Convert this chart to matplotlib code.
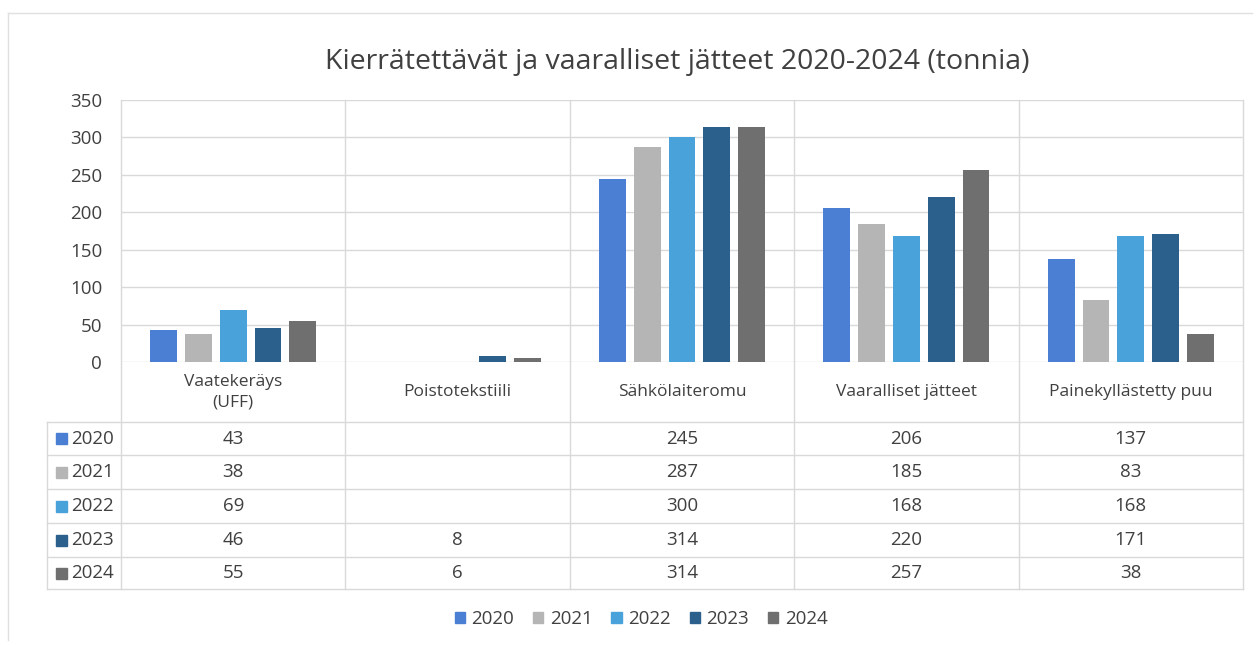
import numpy as np
import matplotlib as mpl
mpl.use("Agg")
import matplotlib.pyplot as plt
from matplotlib.patches import Patch
from matplotlib.lines import Line2D

# Datos del gráfico
categorias = ["Vaatekeräys\n(UFF)", "Poistotekstiili", "Sähkölaiteromu",
              "Vaaralliset jätteet", "Painekyllästetty puu"]
anios = ["2020", "2021", "2022", "2023", "2024"]
v2020 = [43, np.nan, 245, 206, 137]
v2021 = [38, np.nan, 287, 185, 83]
v2022 = [69, np.nan, 300, 168, 168]
v2023 = [46, 8, 314, 220, 171]
v2024 = [55, 6, 314, 257, 38]
series = [v2020, v2021, v2022, v2023, v2024]
colores = ["#4a7fd4", "#b5b5b5", "#4aa2da", "#2b5f8c", "#6f6f6f"]
yticks = [0, 50, 100, 150, 200, 250, 300, 350]

W, H = 1257, 645
plt.rcParams['font.family'] = ['Open Sans', 'DejaVu Sans']
fig = plt.figure(figsize=(W / 100, H / 100), dpi=100)
fig.patch.set_facecolor("white")

def fx(x):
    return x / W

def fy(y):
    return 1 - y / H

# Límites del área de trazado (píxeles)
izq, der, arriba, cero = 121, 1243, 100, 362
tabla_izq = 47
filas = [422, 455, 489, 523, 557, 589]
gris = "#d9d9d9"
texto = "#404040"

ax = fig.add_axes([fx(izq), fy(cero), fx(der - izq), (cero - arriba) / H])
ax.set_xlim(0, len(categorias))
ax.set_ylim(0, 350)
ax.set_yticks(yticks)
ax.tick_params(axis="y", length=0, labelsize=13.5, labelcolor=texto, pad=13.5)
ax.set_xticks([])
for s in ax.spines.values():
    s.set_visible(False)
ax.yaxis.grid(True, color=gris, linewidth=1)
ax.set_axisbelow(True)

# Barras
ancho, paso = 0.12, 0.155
centros = np.arange(len(categorias)) + 0.5
for i, (vals, col) in enumerate(zip(series, colores)):
    ax.bar(centros + (i - 2) * paso, vals, width=ancho, color=col, zorder=2)

# Título
fig.text(fx(677), fy(62), "Kierrätettävät ja vaaralliset jätteet 2020-2024 (tonnia)",
         ha="center", va="center", fontsize=20.5, color=texto)

# Líneas de la tabla de datos
col_w = (der - izq) / len(categorias)
lineas = []
for k in range(len(categorias) + 1):
    x = izq + k * col_w
    lineas.append(([fx(x), fx(x)], [fy(arriba), fy(filas[-1])]))
lineas.append(([fx(tabla_izq), fx(tabla_izq)], [fy(filas[0]), fy(filas[-1])]))
for y in filas:
    lineas.append(([fx(tabla_izq), fx(der)], [fy(y), fy(y)]))
for xs, ys in lineas:
    fig.add_artist(Line2D(xs, ys, color=gris, linewidth=1))

# Borde exterior
fig.add_artist(Line2D([fx(8), fx(8)], [fy(13), fy(640)], color="#e0e0e0", linewidth=1))
fig.add_artist(Line2D([fx(8), fx(1252)], [fy(13), fy(13)], color="#e0e0e0", linewidth=1))

# Etiquetas de categorías
for k, cat in enumerate(categorias):
    cx = izq + (k + 0.5) * col_w
    fig.text(fx(cx), fy((cero + filas[0]) / 2), cat, ha="center", va="center",
             fontsize=12.5, color=texto, linespacing=1.35)

# Filas de la tabla
for i, (anio, vals, col) in enumerate(zip(anios, series, colores)):
    cy = (filas[i] + filas[i + 1]) / 2
    fig.patches.append(plt.Rectangle((fx(56), fy(cy + 5.5)), fx(11), 11 / H,
                                     color=col, transform=fig.transFigure, figure=fig))
    fig.text(fx(71), fy(cy), anio, ha="left", va="center", fontsize=13.5, color=texto)
    for k, v in enumerate(vals):
        if np.isnan(v):
            continue
        cx = izq + (k + 0.5) * col_w
        fig.text(fx(cx), fy(cy), f"{v:g}", ha="center", va="center",
                 fontsize=13.5, color=texto)

# Leyenda
handles = [Patch(color=c, label=a) for c, a in zip(colores, anios)]
fig.legend(handles=handles, loc="center", bbox_to_anchor=(fx(641), fy(619)), ncol=5,
           frameon=False, fontsize=13.5, handlelength=0.55, handleheight=0.55,
           handletextpad=0.35, columnspacing=1.0, labelcolor=texto)

fig.savefig("out.png", dpi=100, facecolor="white")
